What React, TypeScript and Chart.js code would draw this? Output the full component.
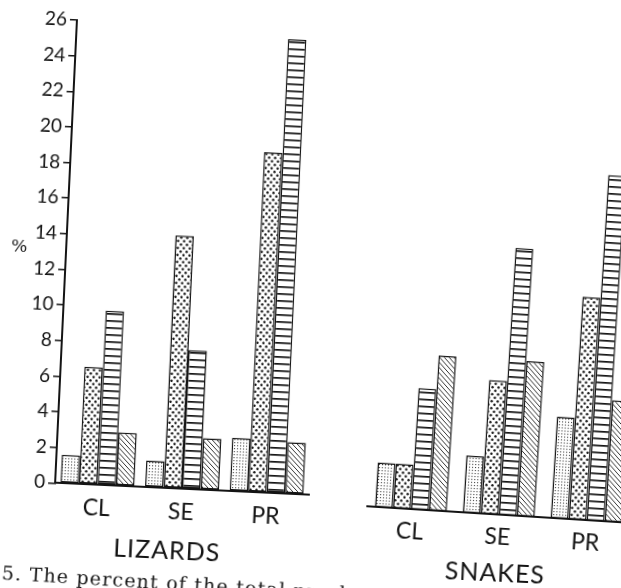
import React, { useEffect, useRef } from "react";
import { Chart, registerables } from "chart.js";

Chart.register(...registerables);

// ---- data ----
const groups = ["CL", "SE", "PR"];
const seriesNames = ["fine stipple", "coarse dots", "horizontal bars", "diagonal hatch"];

const lizardsFine = [1.6, 1.5, 3.0];
const lizardsCoarse = [6.6, 14.2, 19.1];
const lizardsHoriz = [9.8, 7.8, 25.5];
const lizardsDiag = [3.0, 2.9, 2.9];

const snakesFine = [2.5, 3.2, 5.7];
const snakesCoarse = [2.5, 7.5, 12.5];
const snakesHoriz = [6.8, 15.0, 19.4];
const snakesDiag = [8.7, 8.7, 6.8];

const yMin = 0;
const yMax = 26;
const yStep = 2;

const INK = "#141414";

function tile(w: number, h: number, draw: (c: CanvasRenderingContext2D) => void) {
  const cv = document.createElement("canvas");
  cv.width = w;
  cv.height = h;
  const c = cv.getContext("2d")!;
  c.fillStyle = "#fff";
  c.fillRect(0, 0, w, h);
  draw(c);
  return c.createPattern(cv, "repeat")!;
}

function makePatterns() {
  const fine = tile(3, 3, (c) => {
    c.fillStyle = "#444";
    c.fillRect(1, 1, 1.1, 1.1);
  });
  const coarse = tile(6, 7, (c) => {
    c.fillStyle = INK;
    c.beginPath();
    c.arc(1.5, 1.75, 1.2, 0, Math.PI * 2);
    c.fill();
    c.beginPath();
    c.arc(4.5, 5.25, 1.2, 0, Math.PI * 2);
    c.fill();
  });
  const horiz = tile(4, 7, (c) => {
    c.fillStyle = INK;
    c.fillRect(0, 0, 4, 1.7);
  });
  const diag = tile(5, 5, (c) => {
    c.strokeStyle = INK;
    c.lineWidth = 0.9;
    c.beginPath();
    c.moveTo(-1, -1);
    c.lineTo(6, 6);
    c.moveTo(-1, 4);
    c.lineTo(1, 6);
    c.moveTo(4, -1);
    c.lineTo(6, 1);
    c.stroke();
  });
  return [fine, coarse, horiz, diag];
}

function buildConfig(
  series: number[][],
  patterns: CanvasPattern[],
  o: {
    showY: boolean;
    catPct: number;
    padding: { left: number; right: number; top: number; bottom: number };
    yWidth: number;
    xHeight: number;
    labelPad: number;
  }
): any {
  return {
    type: "bar",
    data: {
      labels: groups,
      datasets: series.map((d, i) => ({
        label: seriesNames[i],
        data: d,
        backgroundColor: patterns[i],
        borderColor: INK,
        borderWidth: 1.5,
        borderSkipped: false,
        categoryPercentage: o.catPct,
        barPercentage: 1,
      })),
    },
    options: {
      responsive: false,
      animation: false,
      events: [],
      layout: { padding: o.padding },
      plugins: { legend: { display: false }, tooltip: { enabled: false } },
      scales: {
        x: {
          grid: { display: false },
          border: { display: true, color: INK, width: 2 },
          ticks: {
            color: INK,
            padding: o.labelPad,
            font: { family: "Lato", size: 23 },
          },
          afterFit: (s: any) => {
            s.height = o.xHeight;
          },
        },
        y: {
          display: o.showY,
          min: yMin,
          max: yMax,
          grid: {
            drawOnChartArea: false,
            drawTicks: true,
            tickLength: 7,
            color: INK,
            lineWidth: 1.5,
          },
          border: { display: true, color: INK, width: 2 },
          ticks: {
            stepSize: yStep,
            color: INK,
            padding: 3,
            font: { family: "Lato", size: 19 },
          },
          afterFit: (s: any) => {
            s.width = o.yWidth;
          },
        },
      },
    },
  };
}

const textBase: React.CSSProperties = {
  position: "absolute",
  whiteSpace: "nowrap",
  lineHeight: 1,
  color: INK,
};

export default function App() {
  const lizRef = useRef<HTMLCanvasElement>(null);
  const snkRef = useRef<HTMLCanvasElement>(null);

  useEffect(() => {
    const pats = makePatterns();
    const liz = new Chart(
      lizRef.current!,
      buildConfig([lizardsFine, lizardsCoarse, lizardsHoriz, lizardsDiag], pats, {
        showY: true,
        catPct: 0.875,
        padding: { left: 0, right: 22, top: 31, bottom: 0 },
        yWidth: 64,
        xHeight: 45.7,
        labelPad: 1,
      })
    );
    const snk = new Chart(
      snkRef.current!,
      buildConfig([snakesFine, snakesCoarse, snakesHoriz, snakesDiag], pats, {
        showY: false,
        catPct: 0.82,
        padding: { left: 6.6, right: 19.4, top: 39.6, bottom: 0 },
        yWidth: 0,
        xHeight: 57,
        labelPad: 1,
      })
    );
    return () => {
      liz.destroy();
      snk.destroy();
    };
  }, []);

  return (
    <div
      style={{
        position: "fixed",
        left: 0,
        top: 0,
        width: 621,
        height: 588,
        overflow: "hidden",
        background: "#fff",
      }}
    >
      <div
        style={{
          position: "absolute",
          left: 0,
          top: 0,
          width: 700,
          height: 640,
          transformOrigin: "300px 300px",
          transform: "rotate(2.7deg)",
        }}
      >
        <canvas
          ref={lizRef}
          width={340}
          height={540}
          style={{ position: "absolute", left: 0, top: 0, width: 340, height: 540 }}
        />
        <canvas
          ref={snkRef}
          width={290}
          height={560}
          style={{
            position: "absolute",
            left: 370,
            top: 0,
            width: 290,
            height: 560,
            transformOrigin: "14.6px 502px",
            transform: "rotate(0.9deg)",
          }}
        />
        <div
          style={{
            ...textBase,
            left: 17,
            top: 259.4,
            transform: "translate(-50%, -50%)",
            fontFamily: "DejaVu Serif",
            fontSize: 17,
          }}
        >
          %
        </div>
        <div
          style={{
            ...textBase,
            left: 178.8,
            top: 554.8,
            transform: "translate(-50%, -50%)",
            fontFamily: "Lato",
            fontSize: 25,
            letterSpacing: 1,
          }}
        >
          LIZARDS
        </div>
        <div
          style={{
            ...textBase,
            left: 507.6,
            top: 562,
            transform: "translate(-50%, -50%)",
            fontFamily: "Lato",
            fontSize: 25,
            letterSpacing: 1,
          }}
        >
          SNAKES
        </div>
        <div
          style={{
            ...textBase,
            left: 15.4,
            top: 576.6,
            transformOrigin: "0 16px",
            transform: "rotate(0.8deg)",
            fontFamily: "DejaVu Serif",
            fontSize: 19,
            letterSpacing: 1.2,
          }}
        >
          5. The percent of the total number
        </div>
      </div>
    </div>
  );
}
